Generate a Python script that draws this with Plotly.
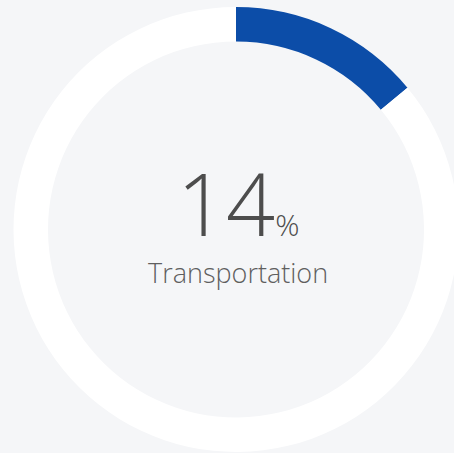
import plotly.graph_objects as go

labels = ["Transportation", "Other"]
values = [14, 86]
colors = ["#0c4da8", "#ffffff"]
pct_label = "14"
category = "Transportation"

W, H = 460, 453
fig = go.Figure(go.Pie(
    labels=labels, values=values, sort=False, direction="clockwise", rotation=0,
    hole=0.845, marker=dict(colors=colors, line=dict(width=0)),
    textinfo="none", hoverinfo="none", showlegend=False,
    domain=dict(x=[13.5 / W, 458.5 / W], y=[1 / H, 446 / H]),
))
fig.add_annotation(x=238.5 / W, y=1 - 202 / H, xref="paper", yref="paper",
                   text=pct_label + "<span style='font-size:30px'>%</span>", showarrow=False,
                   height=80, valign="middle",
                   font=dict(family="Open Sans", size=86, color="#4d4d4d", weight=300))
fig.add_annotation(x=238 / W, y=1 - 272 / H, xref="paper", yref="paper",
                   text=category, showarrow=False,
                   font=dict(family="Open Sans", size=27, color="#5f5f5f", weight=300))
fig.update_layout(width=W, height=H, margin=dict(l=0, r=0, t=0, b=0),
                  paper_bgcolor="#f5f6f8", plot_bgcolor="#f5f6f8", autosize=False)
fig.write_html("out.html", config={"displayModeBar": False},
               post_script="document.body.style.margin='0';document.body.style.overflow='hidden';")
